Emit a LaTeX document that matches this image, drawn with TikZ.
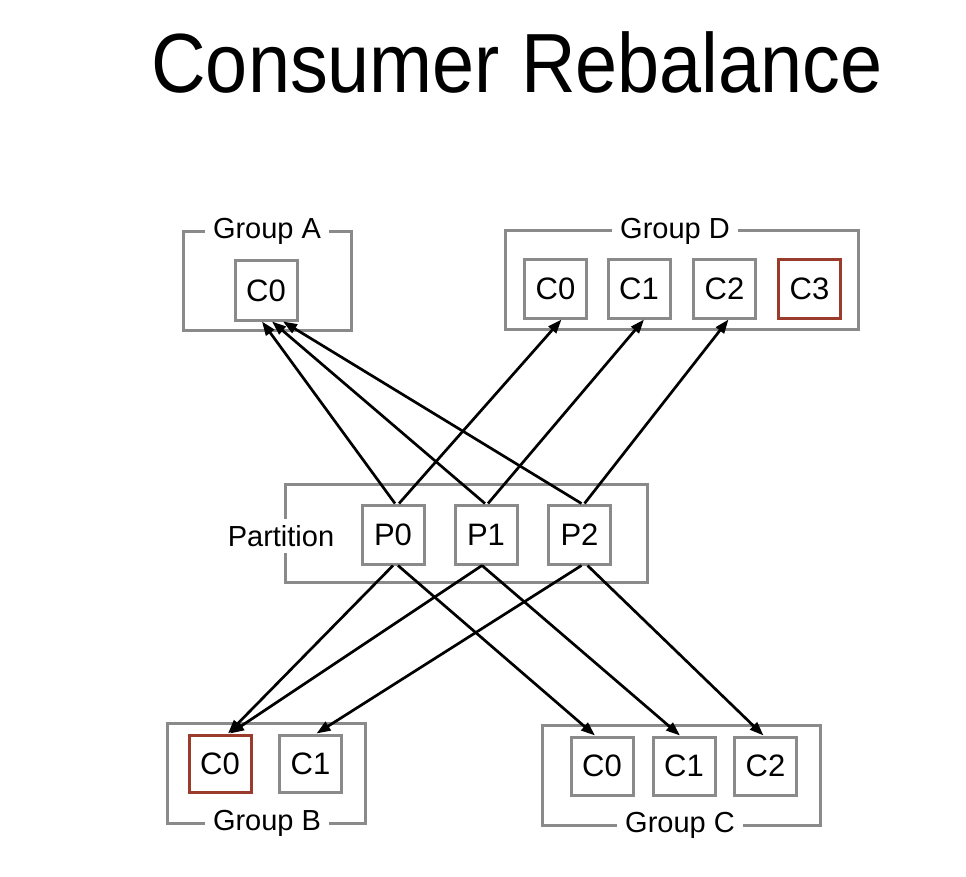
\documentclass[tikz,border=0pt]{standalone}
\usepackage{fontspec}
\setmainfont{Liberation Sans}
\usetikzlibrary{arrows.meta}
\definecolor{boxgray}{HTML}{8A8A8A}
\definecolor{boxred}{HTML}{9A3B2C}
\tikzset{
  cbox/.style={draw=boxgray, line width=3pt, minimum width=62pt, minimum height=58pt, inner sep=0pt, font=\fontsize{31}{33}\selectfont},
  redbox/.style={cbox, draw=boxred},
  frame/.style={draw=boxgray, line width=3pt, inner sep=0pt},
  glabel/.style={fill=white, inner xsep=8pt, inner ysep=2pt, font=\fontsize{29}{31}\selectfont},
  arr/.style={line width=2.7pt, -{Triangle[length=14pt,width=10pt]}}
}
\begin{document}
\begin{tikzpicture}[x=1pt,y=-1pt]
\useasboundingbox[fill=white] (0,0) rectangle (966,877);
\node (title) at (517,62) {\scalebox{0.9}[1]{\fontsize{84}{90}\selectfont Consumer Rebalance}};

% frames
\node[frame, minimum width=168pt, minimum height=98pt] (GA) at (267,281) {};
\node[frame, minimum width=353pt, minimum height=98pt] (GD) at (681.5,280) {};
\node[frame, minimum width=362pt, minimum height=98pt] (PT) at (466,533) {};
\node[frame, minimum width=198pt, minimum height=100pt] (GB) at (266,773) {};
\node[frame, minimum width=278pt, minimum height=100pt] (GC) at (681,775) {};

\node[glabel] (LA) at (267,231) {Group A};
\node[glabel] (LD) at (675,231) {Group D};
\node[glabel] (LB) at (267,823) {Group B};
\node[glabel] (LC) at (680,825) {Group C};
\node[fill=white, inner xsep=0pt, inner ysep=6pt, font=\fontsize{29}{31}\selectfont] (LP) at (281,536) {Partition};

% consumer boxes
\node[cbox, minimum height=59pt] (AC0) at (266,290.5) {C0};
\node[cbox] (DC0) at (555.5,289) {C0};
\node[cbox] (DC1) at (639,289) {C1};
\node[cbox] (DC2) at (724.5,289) {C2};
\node[redbox] (DC3) at (809.5,289) {C3};

\node[cbox, minimum height=59pt] (P0) at (393,534.5) {P0};
\node[cbox, minimum height=59pt] (P1) at (486,534.5) {P1};
\node[cbox, minimum height=59pt] (P2) at (579.5,534.5) {P2};

\node[redbox, minimum height=57pt] (BC0) at (220,763.5) {C0};
\node[cbox, minimum height=57pt] (BC1) at (310.5,763.5) {C1};

\node[cbox] (CC0) at (602,766) {C0};
\node[cbox] (CC1) at (684,766) {C1};
\node[cbox] (CC2) at (765.5,766) {C2};

% arrows up
\draw[arr] ([xshift=2pt]P0.north) -- ([xshift=-4pt]AC0.south);
\draw[arr] ([xshift=-1pt]P1.north) -- ([xshift=6pt]AC0.south);
\draw[arr] ([xshift=2pt]P2.north) -- ([xshift=17pt]AC0.south);
\draw[arr] ([xshift=6pt]P0.north) -- ([xshift=6pt]DC0.south);
\draw[arr] ([xshift=2pt]P1.north) -- ([xshift=5pt]DC1.south);
\draw[arr] ([xshift=5pt]P2.north) -- ([xshift=4pt]DC2.south);

% arrows down
\draw[arr] ([xshift=0pt]P0.south) -- ([xshift=8pt]BC0.north);
\draw[arr] ([xshift=5pt]P0.south) -- ([xshift=-7pt]CC0.north);
\draw[arr] ([xshift=-4pt]P1.south) -- ([xshift=10pt]BC0.north);
\draw[arr] ([xshift=-4pt]P1.south) -- ([xshift=-4pt]CC1.north);
\draw[arr] ([xshift=2pt]P2.south) -- ([xshift=6pt]BC1.north);
\draw[arr] ([xshift=8pt]P2.south) -- ([xshift=-2pt]CC2.north);
\end{tikzpicture}
\end{document}
